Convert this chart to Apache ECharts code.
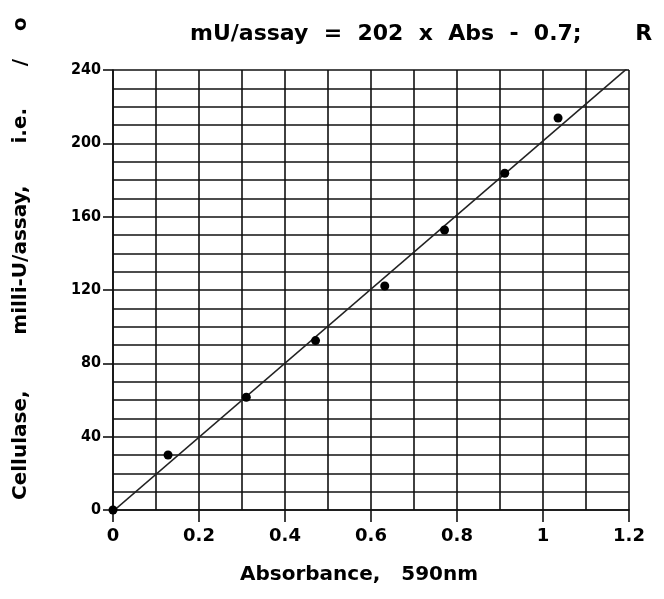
<!DOCTYPE html>
<html>
<head>
<meta charset="utf-8">
<script src="https://cdn.jsdelivr.net/npm/echarts@6/dist/echarts.min.js"></script>
<style>html,body{margin:0;padding:0;background:#fff;}#c{width:664px;height:599px;}</style>
</head>
<body>
<div id="c"></div>
<script>
// Data
const absorbance = [0, 0.128, 0.31, 0.471, 0.632, 0.771, 0.911, 1.035];
const activity   = [0, 30, 61.5, 92.4, 122.2, 152.7, 183.7, 213.8];
// regression line endpoints (mU/assay = 202 x Abs - 0.7)
const fitX = [0, 1.2];
const fitY = [-0.7, 241.7];
const xTickLabels = ['0', '0.2', '0.4', '0.6', '0.8', '1', '1.2'];
const yTickLabels = ['0', '40', '80', '120', '160', '200', '240'];
const titleText = 'mU/assay  =  202  x  Abs  -  0.7;       R';
const xTitle = 'Absorbance,   590nm';
const yTitle = 'Cellulase,        milli-U/assay,      i.e.      /    o';

const chart = echarts.init(document.getElementById('c'), null, {renderer: 'canvas'});
const ink = '#111';
const font = '"DejaVu Sans", Verdana, sans-serif';
const narrow = '"Liberation Sans Narrow", "DejaVu Sans Condensed", sans-serif';

chart.setOption({
  animation: false,
  backgroundColor: '#fff',
  grid: {left: 113, right: 35, top: 70, bottom: 89, containLabel: false},
  xAxis: {
    type: 'value', min: 0, max: 1.2, interval: 0.2,
    axisLine: {show: true, onZero: false, lineStyle: {color: ink, width: 1.6}},
    axisTick: {show: true, length: 12, lineStyle: {color: ink, width: 1.6}},
    axisLabel: {
      margin: 17, color: '#000', fontFamily: font, fontWeight: 'bold', fontSize: 18,
      formatter: (v) => xTickLabels[Math.round(v / 0.2)]
    },
    splitLine: {show: true, lineStyle: {color: ink, width: 1.6}},
    minorTick: {show: false, splitNumber: 2},
    minorSplitLine: {show: true, lineStyle: {color: ink, width: 1.6}}
  },
  yAxis: {
    type: 'value', min: 0, max: 240, interval: 40,
    axisLine: {show: true, onZero: false, lineStyle: {color: ink, width: 1.6}},
    axisTick: {show: true, length: 10, lineStyle: {color: ink, width: 1.6}},
    axisLabel: {
      margin: 12, color: '#000', fontFamily: narrow, fontWeight: 'bold', fontSize: 16,
      formatter: (v) => yTickLabels[Math.round(v / 40)]
    },
    splitLine: {show: true, lineStyle: {color: ink, width: 1.6}},
    minorTick: {show: false, splitNumber: 4},
    minorSplitLine: {show: true, lineStyle: {color: ink, width: 1.6}}
  },
  series: [
    {
      type: 'line', data: fitX.map((x, i) => [x, fitY[i]]),
      showSymbol: false, symbol: 'none', clip: true,
      lineStyle: {color: '#222', width: 1.6}, z: 3
    },
    {
      type: 'scatter', data: absorbance.map((x, i) => [x, activity[i]]),
      symbol: 'circle', symbolSize: 9, clip: false,
      itemStyle: {color: '#000', opacity: 1}, z: 4
    }
  ],
  graphic: [
    {type: 'text', left: 190, top: 23, style: {text: titleText, fill: '#000', font: 'bold 22px ' + font}},
    {type: 'text', left: 240, top: 565, style: {text: xTitle, fill: '#000', font: 'bold 20px ' + font}},
    {type: 'text', x: 21, y: 500, rotation: Math.PI / 2,
     style: {text: yTitle, fill: '#000', font: 'bold 20px ' + font, align: 'left', verticalAlign: 'middle'}}
  ]
});
</script>
</body>
</html>
